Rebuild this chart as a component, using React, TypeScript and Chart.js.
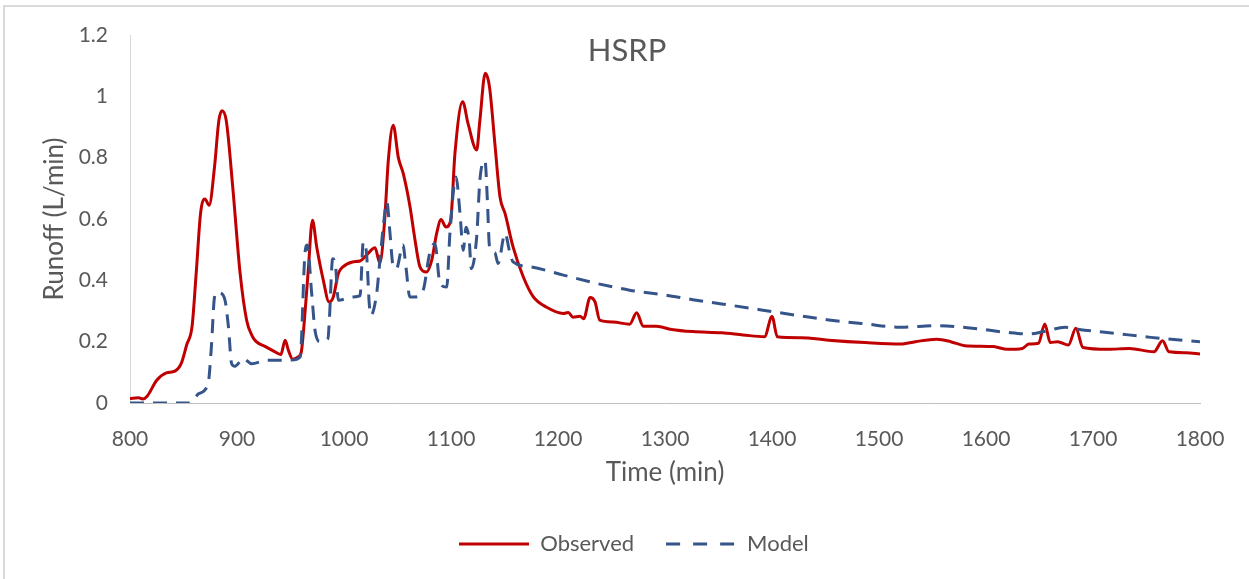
import React, { useEffect, useRef } from 'react';
import { Chart, registerables } from 'chart.js';

Chart.register(...registerables);

const chartTitle = 'HSRP';
const xAxisTitle = 'Time (min)';
const yAxisTitle = 'Runoff (L/min)';

const obsTime = [
  800, 808, 812, 816, 825, 834, 842, 848, 853, 858, 862, 866, 870, 874, 879, 883, 886, 890, 896, 903,
  909, 914, 918, 927, 936, 941, 945, 948, 952, 957, 960, 963, 966.6, 970.5, 974.5, 980.7, 986, 990, 994.7, 999,
  1008, 1015, 1021, 1029, 1033.5, 1038, 1041.4, 1046, 1050.8, 1055.4, 1061.7, 1066, 1071, 1077, 1082, 1086.6, 1090.7, 1095.3, 1099.7, 1103.7,
  1110.9, 1116, 1124, 1127, 1132, 1136, 1141, 1145.8, 1150.5, 1158, 1167.6, 1177, 1189, 1205, 1209.6, 1214, 1220.6, 1224, 1230, 1234.6,
  1239, 1251.6, 1267, 1273.5, 1279.7, 1292, 1306, 1326, 1353, 1373, 1393, 1400, 1405, 1427, 1453, 1487, 1520, 1534, 1554, 1567,
  1580, 1607, 1620, 1634, 1640, 1649, 1655, 1660, 1667, 1677, 1684, 1690.6, 1714, 1734, 1757, 1765, 1771, 1787, 1800,
];
const obsRunoff = [
  0.015, 0.017, 0.013, 0.022, 0.074, 0.098, 0.104, 0.13, 0.19, 0.25, 0.43, 0.62, 0.665, 0.645, 0.77, 0.92, 0.953, 0.92, 0.705, 0.42,
  0.27, 0.22, 0.2, 0.183, 0.166, 0.158, 0.205, 0.172, 0.143, 0.15, 0.165, 0.27, 0.433, 0.596, 0.509, 0.4, 0.33, 0.346, 0.422, 0.444,
  0.46, 0.463, 0.482, 0.506, 0.457, 0.596, 0.79, 0.906, 0.8, 0.748, 0.64, 0.54, 0.444, 0.427, 0.466, 0.553, 0.598, 0.574, 0.596, 0.814,
  0.982, 0.91, 0.825, 0.922, 1.075, 1.03, 0.846, 0.672, 0.618, 0.509, 0.411, 0.346, 0.313, 0.292, 0.295, 0.28, 0.283, 0.275, 0.344, 0.33,
  0.27, 0.264, 0.257, 0.294, 0.25, 0.25, 0.24, 0.233, 0.229, 0.222, 0.216, 0.282, 0.216, 0.213, 0.205, 0.197, 0.192, 0.2, 0.208, 0.2,
  0.187, 0.184, 0.175, 0.178, 0.192, 0.195, 0.258, 0.197, 0.2, 0.189, 0.244, 0.181, 0.175, 0.178, 0.167, 0.203, 0.167, 0.164, 0.16,
];

const modelTime = [
  800, 855, 860, 864, 873, 876, 879, 881.6, 884, 888.8, 892, 895, 898, 906, 913.7, 927.7, 940, 951, 959, 963.5,
  965.7, 969.8, 972.9, 977.6, 985, 986.3, 989.4, 992, 994.7, 1008.7, 1015, 1018, 1021, 1023.6, 1025, 1030.5, 1033.6, 1036.7, 1040, 1043,
  1045.5, 1049, 1055, 1058, 1061.5, 1066, 1074, 1080, 1085, 1089.7, 1096, 1099, 1104.7, 1108.4, 1111.5, 1114, 1117, 1119, 1124, 1127,
  1131.8, 1134, 1136, 1141, 1144, 1150.5, 1155, 1158, 1174, 1205, 1236, 1267, 1300, 1326, 1353, 1380, 1400, 1427, 1453, 1487,
  1520, 1554, 1587, 1620, 1640, 1654, 1674, 1687, 1721, 1754, 1800,
];
const modelRunoff = [
  0, 0, 0.012, 0.03, 0.063, 0.18, 0.346, 0.362, 0.36, 0.335, 0.248, 0.128, 0.12, 0.145, 0.128, 0.139, 0.139, 0.14, 0.15, 0.487,
  0.515, 0.357, 0.237, 0.2, 0.21, 0.27, 0.47, 0.45, 0.335, 0.346, 0.35, 0.525, 0.49, 0.324, 0.286, 0.357, 0.466, 0.575, 0.656, 0.553,
  0.455, 0.438, 0.515, 0.44, 0.346, 0.346, 0.368, 0.487, 0.52, 0.39, 0.378, 0.553, 0.737, 0.618, 0.498, 0.573, 0.53, 0.438, 0.542, 0.727,
  0.79, 0.66, 0.51, 0.49, 0.455, 0.553, 0.49, 0.46, 0.444, 0.417, 0.39, 0.368, 0.352, 0.337, 0.323, 0.309, 0.298, 0.284, 0.271, 0.258,
  0.247, 0.252, 0.244, 0.23, 0.225, 0.233, 0.247, 0.24, 0.227, 0.214, 0.2,
];

const xTicks = [800, 900, 1000, 1100, 1200, 1300, 1400, 1500, 1600, 1700, 1800];
const yTicks = [0, 0.2, 0.4, 0.6, 0.8, 1, 1.2];
const yTickLabels = ['0', '0.2', '0.4', '0.6', '0.8', '1', '1.2'];

function makeLegendLine(color: string, dash: number[]) {
  const c = document.createElement('canvas');
  c.width = 70;
  c.height = 4;
  const g = c.getContext('2d');
  if (g) {
    g.strokeStyle = color;
    g.lineWidth = 3;
    g.setLineDash(dash);
    g.beginPath();
    g.moveTo(0, 2);
    g.lineTo(70, 2);
    g.stroke();
  }
  return c;
}

export default function App() {
  const canvasRef = useRef<HTMLCanvasElement | null>(null);

  useEffect(() => {
    document.body.style.margin = '0';
    const canvas = canvasRef.current;
    if (!canvas) return;

    const FONT = 'Lato';
    const TEXT = '#595959';
    const H = 579;
    const padLeft = 68;
    const padRight = 49;
    const padTop = 35;
    const padBottom = 14;
    const legendFont = 22;
    const legendPad = 32;
    const legendH = legendFont + legendPad + 10;
    const plotLeft = 130;
    const plotBottom = 403;
    const xScaleH = H - padBottom - legendH - plotBottom;
    const axisTitleFont = 26;
    const xTitleCenter = 473;
    const yTitleCenter = 55;

    const obsColor = '#C00000';
    const modelColor = '#35558A';
    const legendImgs = [makeLegendLine(obsColor, []), makeLegendLine(modelColor, [14, 13])];

    const titlePlugin = {
      id: 'hsrpTitle',
      afterDraw(chart: any) {
        const ctx = chart.ctx;
        ctx.save();
        ctx.font = `31px ${FONT}`;
        ctx.fillStyle = TEXT;
        ctx.textAlign = 'center';
        ctx.textBaseline = 'middle';
        ctx.fillText(chartTitle, 627, 51);
        ctx.restore();
      },
    };

    const chart = new Chart(canvas, {
      type: 'line',
      data: {
        datasets: [
          {
            label: 'Observed',
            data: obsTime.map((t, i) => ({ x: t, y: obsRunoff[i] })),
            borderColor: obsColor,
            backgroundColor: obsColor,
            borderWidth: 3,
            pointRadius: 0,
            cubicInterpolationMode: 'monotone',
            fill: false,
            order: 1,
          },
          {
            label: 'Model',
            data: modelTime.map((t, i) => ({ x: t, y: modelRunoff[i] })),
            borderColor: modelColor,
            backgroundColor: modelColor,
            borderWidth: 3,
            borderDash: [14, 9],
            pointRadius: 0,
            cubicInterpolationMode: 'monotone',
            fill: false,
            order: 0,
          },
        ],
      },
      options: {
        animation: false,
        responsive: false,
        maintainAspectRatio: false,
        layout: { padding: { left: padLeft, right: padRight, top: padTop, bottom: padBottom } },
        plugins: {
          title: { display: false },
          tooltip: { enabled: false },
          legend: {
            position: 'bottom',
            labels: {
              usePointStyle: true,
              pointStyleWidth: 70,
              padding: legendPad,
              color: TEXT,
              font: { family: FONT, size: legendFont },
              sort: (a: any, b: any) => a.datasetIndex - b.datasetIndex,
              generateLabels: (ch: any) => {
                const items = (Chart as any).defaults.plugins.legend.labels.generateLabels(ch);
                return items.map((it: any) => ({ ...it, pointStyle: legendImgs[it.datasetIndex] }));
              },
            },
          },
        },
        scales: {
          x: {
            type: 'linear',
            min: 800,
            max: 1800,
            afterBuildTicks: (s: any) => {
              s.ticks = xTicks.map((v) => ({ value: v }));
            },
            afterFit: (s: any) => {
              s.height = xScaleH;
            },
            grid: { display: false, drawTicks: false },
            border: { display: true, color: '#BFBFBF', width: 1 },
            ticks: {
              padding: 24,
              color: TEXT,
              font: { family: FONT, size: 21 },
              maxRotation: 0,
              callback: (v: any) => String(v),
            },
            title: {
              display: true,
              text: xAxisTitle,
              color: TEXT,
              font: { family: FONT, size: axisTitleFont },
              padding: { top: 0, bottom: plotBottom + xScaleH - axisTitleFont * 0.6 - xTitleCenter },
            },
          },
          y: {
            type: 'linear',
            min: 0,
            max: 1.2,
            afterBuildTicks: (s: any) => {
              s.ticks = yTicks.map((v) => ({ value: v }));
            },
            afterFit: (s: any) => {
              s.width = plotLeft - padLeft;
            },
            grid: { display: false, drawTicks: false },
            border: { display: true, color: '#D9D9D9', width: 1 },
            ticks: {
              padding: 22,
              color: TEXT,
              font: { family: FONT, size: 21 },
              callback: (v: any) => {
                const i = yTicks.findIndex((t) => Math.abs(t - Number(v)) < 1e-9);
                return i >= 0 ? yTickLabels[i] : '';
              },
            },
            title: {
              display: true,
              text: yAxisTitle,
              color: TEXT,
              font: { family: FONT, size: axisTitleFont },
              padding: { top: yTitleCenter - padLeft - axisTitleFont * 0.6, bottom: 0 },
            },
          },
        },
      },
      plugins: [titlePlugin],
    } as any);

    return () => chart.destroy();
  }, []);

  return (
    <div style={{ position: 'absolute', left: 0, top: 0, width: 1249, height: 579, background: '#fff', overflow: 'hidden' }}>
      <canvas ref={canvasRef} width={1249} height={579} style={{ position: 'absolute', left: 0, top: 0, width: 1249, height: 579 }} />
      <div
        style={{
          position: 'absolute',
          left: 3,
          top: 5,
          width: 1300,
          height: 700,
          borderLeft: '2px solid #D9D9D9',
          borderTop: '2px solid #D9D9D9',
          pointerEvents: 'none',
        }}
      />
    </div>
  );
}
